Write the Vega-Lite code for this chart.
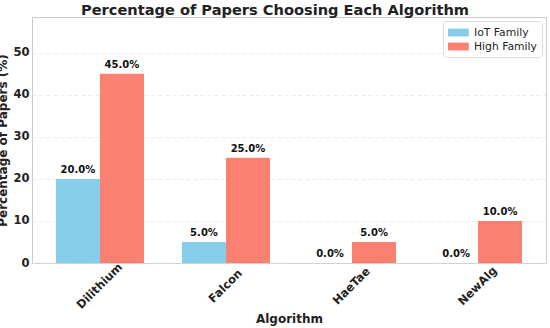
{
  "$schema": "https://vega.github.io/schema/vega-lite/v6.json",
  "width": 514,
  "height": 246,
  "autosize": {"type": "none"},
  "padding": {"left": 32, "top": 17, "right": 4, "bottom": 65},
  "background": "white",
  "config": {
    "font": "DejaVu Sans",
    "view": {"stroke": "#cccccc", "strokeWidth": 1},
    "axis": {"labelFont": "DejaVu Sans", "titleFont": "DejaVu Sans"}
  },
  "title": {
    "text": "Percentage of Papers Choosing Each Algorithm",
    "font": "DejaVu Sans",
    "fontSize": 14.6,
    "fontWeight": "bold",
    "color": "#222222",
    "anchor": "middle",
    "dx": -14,
    "offset": -1
  },
  "data": {
    "values": [
      {"algorithm": "Dilithium", "family": "IoT Family", "value": 20},
      {"algorithm": "Dilithium", "family": "High Family", "value": 45},
      {"algorithm": "Falcon", "family": "IoT Family", "value": 5},
      {"algorithm": "Falcon", "family": "High Family", "value": 25},
      {"algorithm": "HaeTae", "family": "IoT Family", "value": 0},
      {"algorithm": "HaeTae", "family": "High Family", "value": 5},
      {"algorithm": "NewAlg", "family": "IoT Family", "value": 0},
      {"algorithm": "NewAlg", "family": "High Family", "value": 10}
    ]
  },
  "transform": [
    {"calculate": "format(datum.value, '.1f') + '%'", "as": "label"}
  ],
  "encoding": {
    "x": {
      "field": "algorithm",
      "type": "nominal",
      "sort": ["Dilithium", "Falcon", "HaeTae", "NewAlg"],
      "scale": {"paddingInner": 0.3016, "paddingOuter": 0.19},
      "axis": {
        "title": "Algorithm",
        "titleFontSize": 12,
        "titleFontWeight": "bold",
        "titleColor": "#222222",
        "titlePadding": 3,
        "labelAngle": -45,
        "labelAlign": "center",
        "labelBaseline": "middle",
        "labelFontSize": 11.5,
        "labelFontWeight": "bold",
        "labelColor": "#222222",
        "labelPadding": 23,
        "ticks": false,
        "domain": false,
        "grid": false
      }
    },
    "xOffset": {
      "field": "family",
      "type": "nominal",
      "sort": ["IoT Family", "High Family"],
      "scale": {"paddingInner": 0, "paddingOuter": 0}
    },
    "y": {
      "field": "value",
      "type": "quantitative",
      "scale": {"domain": [0, 58.5], "nice": false},
      "axis": {
        "title": "Percentage of Papers (%)",
        "titleFontSize": 12,
        "titleFontWeight": "bold",
        "titleColor": "#222222",
        "titlePadding": 3,
        "values": [0, 10, 20, 30, 40, 50],
        "labelFontSize": 11.5,
        "labelFontWeight": "bold",
        "labelColor": "#222222",
        "labelPadding": 3,
        "ticks": false,
        "domain": false,
        "grid": true,
        "gridColor": "#dddddd",
        "gridDash": [4, 3],
        "gridOpacity": 0.6
      }
    }
  },
  "layer": [
    {
      "mark": {"type": "bar", "stroke": null},
      "encoding": {
        "color": {
          "field": "family",
          "type": "nominal",
          "sort": ["IoT Family", "High Family"],
          "scale": {"domain": ["IoT Family", "High Family"], "range": ["#87CEEB", "#FA8072"]},
          "legend": {
            "title": null,
            "orient": "top-right",
            "offset": 4,
            "labelFontSize": 10.8,
            "labelColor": "#222222",
            "labelOffset": 13,
            "symbolType": "M-1,-0.6H2.2V0.6H-1Z",
            "symbolSize": 169,
            "symbolStrokeWidth": 0,
            "rowPadding": 2,
            "padding": 5,
            "fillColor": "white",
            "strokeColor": "#dddddd",
            "cornerRadius": 3
          }
        }
      }
    },
    {
      "mark": {"type": "text", "baseline": "bottom", "dy": -4, "fontSize": 10, "fontWeight": "bold", "color": "#111111"},
      "encoding": {
        "text": {"field": "label", "type": "nominal"}
      }
    }
  ]
}
